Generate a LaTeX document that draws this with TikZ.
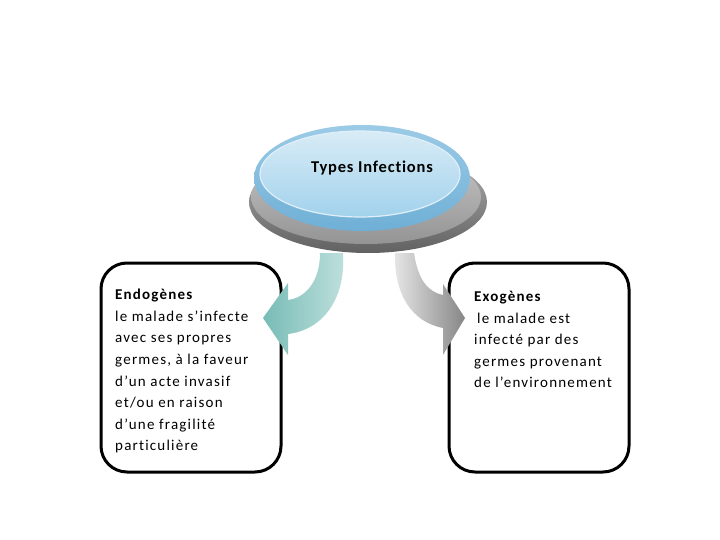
\documentclass[tikz,border=0pt]{standalone}
\usepackage{fontspec}
\setmainfont{Carlito}[Ligatures=CommonOff]
\definecolor{rimblue}{HTML}{6FAFD6}
\definecolor{rimbluetop}{HTML}{9CCBE6}
\definecolor{inntop}{HTML}{D8ECF6}
\definecolor{innbot}{HTML}{A2D2EC}
\definecolor{tealdark}{HTML}{78BCB6}
\definecolor{teallight}{HTML}{BFE0DD}
\definecolor{graylight}{HTML}{E6E6E6}
\definecolor{graydark}{HTML}{868686}
\begin{document}
\begin{tikzpicture}[x=1pt,y=-1pt,
  box/.style={draw=black,line width=3pt,rounded corners=26pt,minimum width=180pt,minimum height=209pt,inner sep=0pt},
  boxtext/.style={anchor=north west,align=left,inner sep=0pt,font=\fontsize{15}{21.6}\selectfont\addfontfeature{LetterSpace=8}}]
\useasboundingbox (0,0) rectangle (720,540);
\fill[white] (0,0) rectangle (720,540);
% base of the button
\shade[top color=black!30,bottom color=black!62] (368,202) ellipse [x radius=119,y radius=51];
\shade[top color=black!22,bottom color=black!42] (366,197) ellipse [x radius=115,y radius=47];
% blue top
\shade[top color=rimbluetop,bottom color=rimblue] (362,178) ellipse [x radius=108,y radius=53];
\shade[draw=white!70!rimbluetop,line width=1.2pt,top color=inntop,bottom color=innbot] (360,174) ellipse [x radius=100,y radius=43];
\node (types) at (372,168) {\fontsize{16.5}{18}\selectfont\bfseries\addfontfeature{LetterSpace=5}Types Infections};
% boxes
\node[box] (endo) at (191,367.5) {};
\node[box] (exo) at (539,367.5) {};
\node[boxtext] (endot) at (115,289) {\textbf{Endogènes}\\le malade s’infecte\\avec ses propres\\germes, à la faveur\\d’un acte invasif\\et/ou en raison\\d’une fragilité\\particulière};
\node[boxtext] (exot) at (474,291) {\textbf{Exogènes}\\\hspace*{3pt}le malade est\\infecté par des\\germes provenant\\de l’environnement};
% left curved arrow
\shade[left color=tealdark,right color=teallight]
  (320,253) -- (343,253) .. controls (346,300) and (322,330) .. (288,334)
  -- (288,355) -- (263,318) -- (288,283) -- (288,300)
  .. controls (305,298) and (320,282) .. (320,253) -- cycle;
% right curved arrow
\shade[left color=graylight,right color=graydark]
  (395,253) -- (414,253) .. controls (418,280) and (428,292) .. (443,295)
  -- (443,284) -- (465,318) -- (443,355) -- (443,328)
  .. controls (412,322) and (394,295) .. (395,253) -- cycle;
\end{tikzpicture}
\end{document}
